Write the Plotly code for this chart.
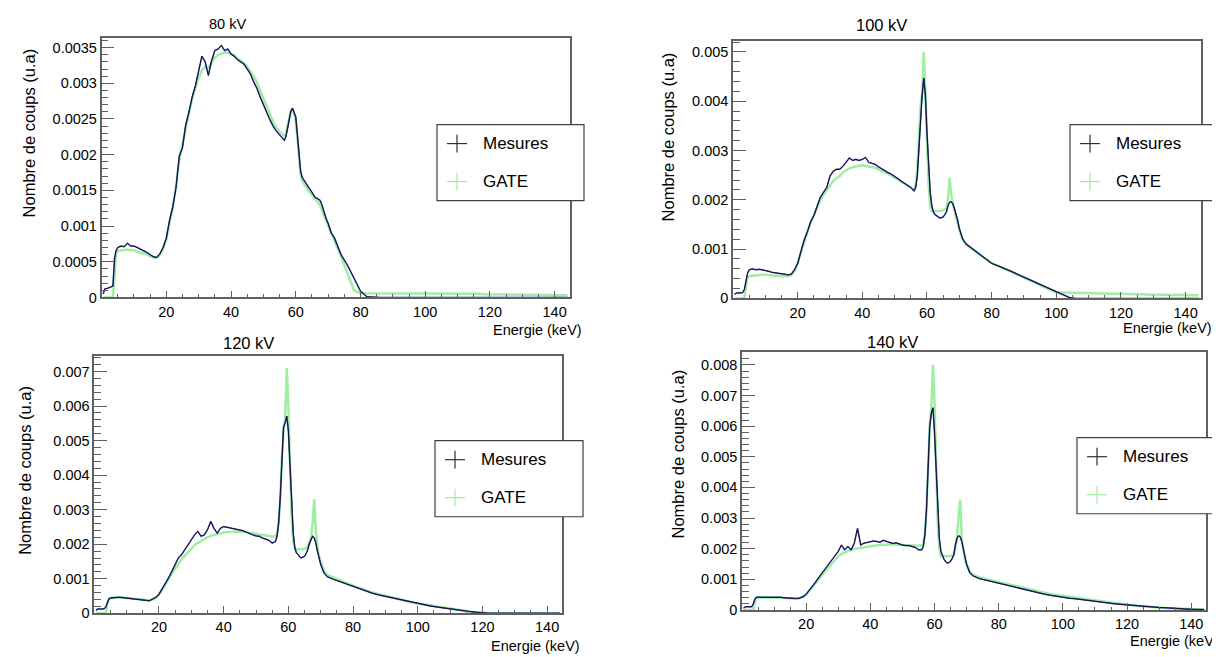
import plotly.graph_objects as go

W, H = 1220, 657

# energy grid (keV), shared by every spectrum below
ENERGY = [0.5, 1, 2, 3, 3.5, 4, 4.5,
          5, 6, 7, 8, 9, 10, 11, 12, 13, 14,
          15, 16, 17, 18, 19, 20, 21, 22, 23, 24,
          25, 26, 27, 28, 29, 30, 31, 32, 33, 34,
          35, 36, 37, 38, 39, 40, 41, 42, 43, 44,
          45, 46, 47, 48, 49, 50, 51, 52, 53, 54,
          55, 56,
          56.5, 57, 57.5, 58, 58.5, 59, 59.5, 60, 60.5, 61,
          61.5, 62, 62.5, 63, 63.5, 64, 64.5, 65, 65.5, 66,
          66.5, 67, 67.5, 68, 68.5, 69, 69.5, 70,
          71, 72, 74, 76, 78, 80, 82, 84, 86,
          88, 90, 92, 94, 96, 98, 100, 102, 104,
          106, 108, 110, 112, 114, 116, 118, 120, 122,
          124, 126, 128, 130, 132, 134, 136, 138, 140, 142, 144]

# spectra, in units of 1e-4 (u.a)
MES_80 = [0.5, 1.2, 1.3, 1.5, 1.6, 5.5, 6.6,
          7.0, 7.2, 7.1, 7.6, 7.2, 7.2, 7.0, 6.8, 6.6, 6.3,
          6.0, 5.7, 5.6, 6.1, 7.0, 8.3, 10.8, 12.7, 15.4, 19.8,
          21.0, 24.2, 26.0, 28.1, 29.7, 31.6, 33.8, 33.0, 31.1, 33.2,
          34.6, 34.8, 35.3, 34.6, 34.8, 34.1, 33.8, 33.3, 33.0, 32.7,
          32.0, 31.3, 30.2, 29.3, 28.1, 27.0, 26.0, 24.9, 24.0, 23.3,
          22.8, 22.3,
          22.0, 22.6, 23.7, 25.3, 26.1, 26.5, 26.0, 25.3, 22.8, 20.0,
          17.7, 16.8, 16.4, 16.1, 15.8, 15.4, 15.1, 14.7, 14.3, 14.0,
          13.9, 13.8, 13.6, 13.1, 12.3, 11.5, 10.9, 10.4,
          9.0, 8.3, 6.0, 4.5, 2.7, 0.9, 0.1, 0, 0,
          0, 0, 0, 0, 0, 0, 0, 0, 0,
          0, 0, 0, 0, 0, 0, 0, 0, 0,
          0, 0, 0, 0, 0, 0, 0, 0, 0, 0, 0]
GATE_80 = [0, 0, 0, 0, 0, 3.0, 6.3,
           6.5, 6.6, 6.6, 6.7, 6.6, 6.6, 6.4, 6.3, 6.1, 6.0,
           5.8, 5.6, 5.6, 5.9, 6.8, 8.2, 10.5, 12.6, 15.5, 19.2,
           21.5, 23.8, 25.8, 27.8, 29.4, 30.8, 31.8, 32.3, 32.2, 33.0,
           33.6, 34.0, 34.2, 34.3, 34.3, 34.1, 33.9, 33.5, 33.2, 32.8,
           32.3, 31.7, 31.0, 30.1, 29.0, 27.9, 26.8, 25.6, 24.6, 23.8,
           23.2, 22.8,
           22.6, 23.0, 24.0, 25.3, 26.2, 26.4, 25.8, 24.8, 22.5, 19.5,
           17.2, 16.3, 15.9, 15.6, 15.2, 14.9, 14.6, 14.3, 14.0, 13.7,
           13.5, 13.3, 12.9, 12.4, 11.8, 11.2, 10.7, 10.2,
           9.0, 7.9, 5.7, 3.3, 1.0, 0.6, 0.6, 0.6, 0.6,
           0.6, 0.6, 0.6, 0.6, 0.6, 0.6, 0.55, 0.55, 0.55,
           0.55, 0.5, 0.5, 0.5, 0.5, 0.5, 0.45, 0.45, 0.45,
           0.45, 0.4, 0.4, 0.4, 0.4, 0.35, 0.35, 0.35, 0.3, 0.3, 0.3]

MES_100 = [0.8, 1.1, 1.1, 1.2, 1.8, 3.5, 5.1,
           5.8, 6.0, 5.8, 5.9, 5.8, 5.7, 5.5, 5.3, 5.2, 5.1,
           5.0, 4.9, 4.8, 4.9, 5.8, 7.1, 9.5, 11.8, 13.5, 15.5,
           16.8, 18.5, 20.5, 21.5, 22.5, 24.8, 25.8, 26.2, 26.2, 26.8,
           27.6, 28.5, 28.0, 28.2, 28.0, 28.2, 28.6, 27.6, 27.4, 27.2,
           26.7, 26.3, 25.8, 25.5, 25.2, 24.8, 24.3, 23.8, 23.4, 23.0,
           22.5, 21.8,
           22.5, 24.8, 30.2, 37.5, 41.2, 44.7, 41.2, 33.5, 26.2, 21.5,
           18.8, 17.5, 17.0, 16.8, 16.5, 16.3, 16.4, 16.5, 17.0, 17.5,
           18.8, 19.5, 19.6, 19.2, 18.2, 17.2, 15.8, 14.2,
           12.1, 11.1, 10.1, 9.1, 8.1, 7.1, 6.6, 6.1, 5.5,
           4.9, 4.3, 3.7, 3.1, 2.5, 1.9, 1.3, 0.7, 0.2,
           0, 0, 0, 0, 0, 0, 0, 0, 0,
           0, 0, 0, 0, 0, 0, 0, 0, 0, 0, 0]
GATE_100 = [0, 0, 0, 0, 0, 2.5, 4.3,
            4.5, 4.6, 4.7, 4.8, 4.8, 4.8, 4.7, 4.7, 4.6, 4.6,
            4.5, 4.5, 4.5, 4.7, 5.5, 7.0, 9.5, 11.6, 13.5, 15.4,
            16.8, 18.4, 19.9, 21.0, 22.0, 23.0, 23.8, 24.4, 24.8, 25.5,
            26.0, 26.4, 26.6, 26.8, 26.9, 27.0, 26.9, 26.8, 26.6, 26.5,
            26.2, 25.9, 25.6, 25.2, 24.9, 24.5, 24.1, 23.8, 23.4, 23.0,
            22.5, 22.0,
            23.0, 26.0, 32.0, 39.0, 41.5, 50.0, 42.0, 30.0, 23.0, 18.5,
            17.8, 17.7, 17.7, 17.7, 17.7, 17.7, 17.8, 17.9, 18.0, 18.2,
            20.0, 24.5, 21.0, 19.0, 17.8, 16.5, 15.2, 14.0,
            12.0, 11.0, 10.0, 9.1, 8.1, 7.2, 6.6, 6.0, 5.4,
            4.8, 4.2, 3.6, 3.0, 2.4, 1.8, 1.2, 1.2, 1.2,
            1.15, 1.1, 1.1, 1.05, 1.0, 1.0, 0.95, 0.9, 0.9,
            0.85, 0.85, 0.8, 0.8, 0.75, 0.75, 0.7, 0.7, 0.7, 0.65, 0.65]

MES_120 = [0.8, 1.2, 1.2, 1.3, 1.7, 2.7, 4.1,
           4.4, 4.6, 4.6, 4.6, 4.5, 4.4, 4.3, 4.2, 4.1, 3.9,
           3.8, 3.6, 3.6, 4.1, 4.6, 5.5, 7.0, 8.7, 10.3, 12.2,
           14.1, 16.0, 17.0, 18.4, 19.9, 21.3, 22.7, 23.7, 22.3, 22.7,
           24.2, 26.6, 24.6, 23.2, 24.6, 25.1, 24.9, 24.6, 24.6, 24.4,
           24.2, 23.9, 23.5, 23.0, 22.7, 22.4, 22.3, 21.8, 21.5, 21.1,
           20.3, 20.8,
           22.3, 26.1, 33.7, 45.2, 53.8, 55.2, 57.1, 52.8, 42.3, 31.8,
           23.2, 18.9, 17.5, 17.0, 16.3, 16.0, 16.2, 16.5, 17.3, 18.4,
           20.3, 21.5, 22.3, 21.8, 20.3, 18.0, 15.8, 14.1,
           11.7, 10.6, 9.8, 9.1, 8.4, 7.7, 7.0, 6.3, 5.8,
           5.3, 4.9, 4.3, 3.9, 3.5, 3.2, 2.8, 2.5, 2.1,
           1.8, 1.5, 1.2, 1.0, 0.8, 0.5, 0.3, 0.1, 0,
           0, 0, 0, 0, 0, 0, 0, 0, 0, 0, 0]
GATE_120 = [0, 0, 0, 0, 0, 2.5, 4.2,
            4.4, 4.5, 4.5, 4.5, 4.5, 4.4, 4.3, 4.2, 4.1, 4.0,
            3.9, 3.8, 3.8, 4.0, 4.5, 5.4, 6.8, 8.4, 9.9, 11.5,
            13.0, 14.4, 15.6, 16.7, 17.8, 18.8, 19.7, 20.4, 21.0, 21.6,
            22.0, 22.4, 22.7, 23.0, 23.2, 23.4, 23.5, 23.6, 23.7, 23.7,
            23.7, 23.6, 23.5, 23.4, 23.2, 23.0, 22.8, 22.6, 22.4, 22.3,
            22.2, 22.3,
            23.0, 26.5, 33.5, 45.0, 53.0, 56.0, 71.0, 60.0, 42.0, 28.0,
            21.0, 18.8, 18.5, 18.5, 18.5, 18.5, 18.5, 18.6, 18.8, 19.2,
            20.0, 22.0, 26.0, 33.0, 24.0, 19.0, 16.5, 15.0,
            12.3, 11.2, 10.3, 9.5, 8.7, 8.0, 7.3, 6.6, 6.0,
            5.5, 5.0, 4.5, 4.0, 3.6, 3.2, 2.8, 2.5, 2.1,
            1.8, 1.5, 1.2, 1.0, 0.8, 0.5, 0.3, 0.1, 0,
            0, 0, 0, 0, 0, 0, 0, 0, 0, 0, 0]

MES_140 = [0.6, 1.0, 1.0, 1.0, 1.9, 3.5, 4.1,
           4.1, 4.1, 4.2, 4.2, 4.3, 4.3, 4.2, 4.1, 4.0, 3.9,
           3.8, 3.6, 3.7, 3.9, 4.3, 5.1, 6.4, 7.8, 9.2, 10.7,
           12.1, 13.7, 15.0, 16.4, 18.0, 19.1, 21.2, 19.6, 20.7, 19.6,
           21.8, 26.6, 21.2, 21.8, 22.0, 22.3, 22.5, 22.3, 22.1, 22.7,
           22.3, 21.9, 21.7, 21.9, 21.5, 21.2, 21.0, 21.0, 20.7, 20.4,
           19.6, 19.6,
           20.7, 24.5, 33.0, 45.9, 59.9, 64.2, 66.0, 57.7, 45.9, 33.0,
           23.4, 19.1, 17.5, 16.4, 15.7, 15.3, 15.5, 15.9, 16.8, 18.0,
           21.2, 23.4, 24.2, 23.9, 22.3, 19.6, 17.0, 14.8,
           12.1, 11.1, 10.2, 9.7, 9.2, 8.6, 8.0, 7.5, 7.0,
           6.5, 6.0, 5.7, 5.2, 4.8, 4.4, 4.1, 3.8, 3.6,
           3.3, 3.1, 2.8, 2.5, 2.3, 2.0, 1.8, 1.6, 1.4,
           1.2, 1.1, 1.0, 0.8, 0.7, 0.5, 0.4, 0.3, 0.2, 0.15, 0.1]
GATE_140 = [0, 0, 0, 0, 0, 2.5, 4.0,
            4.1, 4.1, 4.2, 4.2, 4.2, 4.2, 4.1, 4.0, 3.9, 3.8,
            3.7, 3.6, 3.6, 3.8, 4.2, 5.0, 6.2, 7.5, 8.8, 10.1,
            11.4, 12.6, 13.7, 15.0, 16.2, 17.5, 18.3, 18.8, 19.2, 19.6,
            19.9, 20.1, 20.3, 20.5, 20.7, 20.9, 21.0, 21.1, 21.2, 21.3,
            21.4, 21.4, 21.4, 21.3, 21.2, 21.1, 21.0, 21.0, 21.0, 21.0,
            21.0, 21.0,
            21.5, 25.0, 33.0, 46.0, 60.0, 66.0, 80.0, 68.0, 45.0, 28.0,
            20.0, 17.5, 17.5, 17.5, 17.5, 17.5, 17.5, 17.6, 17.8, 18.0,
            20.0, 24.0, 31.0, 36.0, 23.0, 19.0, 16.5, 15.0,
            12.2, 11.4, 10.6, 10.1, 9.6, 9.1, 8.6, 8.1, 7.6,
            7.1, 6.6, 6.1, 5.7, 5.2, 4.9, 4.6, 4.2, 3.9,
            3.6, 3.3, 3.0, 2.7, 2.4, 2.1, 1.9, 1.6, 1.4,
            1.2, 1.0, 0.9, 0.7, 0.6, 0.5, 0.4, 0.3, 0.2, 0.15, 0.1]

UNIT = 1e-4

TITLES = ["80 kV", "100 kV", "120 kV", "140 kV"]
MESURES = [MES_80, MES_100, MES_120, MES_140]
GATE = [GATE_80, GATE_100, GATE_120, GATE_140]

X_TICKS = [20, 40, 60, 80, 100, 120, 140]
Y_LABELS = [
    ["0", "0.0005", "0.001", "0.0015", "0.002", "0.0025", "0.003", "0.0035"],
    ["0", "0.001", "0.002", "0.003", "0.004", "0.005"],
    ["0", "0.001", "0.002", "0.003", "0.004", "0.005", "0.006", "0.007"],
    ["0", "0.001", "0.002", "0.003", "0.004", "0.005", "0.006", "0.007", "0.008"],
]
Y_STEP = [0.0005, 0.001, 0.001, 0.001]
Y_MINOR = [0.0001, 0.0002, 0.0002, 0.0002]
Y_MAX = [0.00363, 0.00523, 0.00745, 0.00842]
X_MAX = 144.6

# pixel geometry of each pad: frame (left, right, top, bottom)
FRAMES = [(93.6, 561.5, 30.7, 293.0), (725.0, 1192.5, 33.0, 294.0),
          (86.3, 554.0, 352.3, 612.7), (734.0, 1198.0, 348.3, 609.3)]
TITLE_POS = [(219, 16, 14.5), (873, 17, 16.5), (240, 339, 16.5), (884, 338, 16.5)]
LEGEND_BOX = [(429, 576, 118, 195), (1062, 1212, 118, 195),
              (427, 575, 438, 515), (1069, 1217, 435, 512)]
YTITLE_POS = [(21, 127), (660, 131), (17.5, 468), (670, 452)]
XTITLE_POS = [(576, 326), (1206, 324), (574, 646), (1213, 641)]

FONT = "Liberation Sans, Arial, sans-serif"
FRAME_COL = "#606060"
GREEN = "rgb(160,238,160)"


def px(x):
    return x / W


def py(y):
    return 1 - y / H


fig = go.Figure()
shapes = []
annotations = []

for i in range(4):
    n = "" if i == 0 else str(i + 1)
    x = ENERGY
    fig.add_trace(go.Scatter(x=x, y=[v * UNIT for v in GATE[i]], mode="lines",
                             line=dict(color=GREEN, width=2.5), name="GATE",
                             xaxis="x" + n, yaxis="y" + n, showlegend=False))
    # measured spectrum: blue error band look under a thin dark line
    fig.add_trace(go.Scatter(x=x, y=[v * UNIT for v in MESURES[i]], mode="lines",
                             line=dict(color="#2020d0", width=1.5), opacity=0.8,
                             name="Mesures", xaxis="x" + n, yaxis="y" + n,
                             showlegend=False))
    fig.add_trace(go.Scatter(x=x, y=[v * UNIT for v in MESURES[i]], mode="lines",
                             line=dict(color="#141420", width=1), name="Mesures",
                             xaxis="x" + n, yaxis="y" + n, showlegend=False))

    l, r, t, b = FRAMES[i]
    fig.layout["xaxis" + n] = dict(
        domain=[px(l), px(r)], anchor="y" + n, range=[0, X_MAX],
        tickmode="array", tickvals=X_TICKS, ticks="inside", ticklen=7,
        tickcolor=FRAME_COL, showline=True, mirror=True, linecolor=FRAME_COL,
        linewidth=1.5, showgrid=False, zeroline=False,
        tickfont=dict(family=FONT, size=14.5, color="black"),
        minor=dict(tickmode="linear", tick0=0, dtick=5, ticks="inside",
                   ticklen=3.5, tickcolor=FRAME_COL, showgrid=False))
    labels = Y_LABELS[i]
    fig.layout["yaxis" + n] = dict(
        domain=[py(b), py(t)], anchor="x" + n, range=[0, Y_MAX[i]],
        tickmode="array", tickvals=[k * Y_STEP[i] for k in range(len(labels))],
        ticktext=labels, ticks="inside", ticklen=13, tickcolor=FRAME_COL,
        showline=True, mirror=True, linecolor=FRAME_COL, linewidth=1.5,
        showgrid=False, zeroline=False,
        tickfont=dict(family=FONT, size=14.5, color="black"),
        minor=dict(tickmode="linear", tick0=0, dtick=Y_MINOR[i], ticks="inside",
                   ticklen=7, tickcolor=FRAME_COL, showgrid=False))

    tx, ty, ts = TITLE_POS[i]
    annotations.append(dict(x=px(tx), y=py(ty), xref="paper", yref="paper",
                            text=TITLES[i], showarrow=False,
                            xanchor="center", yanchor="middle",
                            font=dict(family=FONT, size=ts, color="black")))
    yx, yy = YTITLE_POS[i]
    annotations.append(dict(x=px(yx), y=py(yy), xref="paper", yref="paper",
                            text="Nombre de coups (u.a)", showarrow=False,
                            textangle=-90, xanchor="center", yanchor="middle",
                            font=dict(family=FONT, size=16.5, color="black")))
    xx, xy = XTITLE_POS[i]
    annotations.append(dict(x=px(xx), y=py(xy), xref="paper", yref="paper",
                            text="Energie (keV)", showarrow=False,
                            xanchor="right", yanchor="middle",
                            font=dict(family=FONT, size=14.5, color="black")))

    # legend box drawn by hand, ROOT style
    bl, br, bt, bb = LEGEND_BOX[i]
    shapes.append(dict(type="rect", xref="paper", yref="paper",
                       x0=px(bl), x1=px(br), y0=py(bb), y1=py(bt),
                       line=dict(color="#404040", width=1.2), fillcolor="white"))
    for k, (label, col) in enumerate([("Mesures", "#303030"), ("GATE", GREEN)]):
        cy = bt + (bb - bt) * (0.25 + 0.5 * k)
        cx = bl + 20
        shapes.append(dict(type="line", xref="paper", yref="paper",
                           x0=px(cx - 10), x1=px(cx + 10), y0=py(cy), y1=py(cy),
                           line=dict(color=col, width=1.2)))
        shapes.append(dict(type="line", xref="paper", yref="paper",
                           x0=px(cx), x1=px(cx), y0=py(cy - 9), y1=py(cy + 9),
                           line=dict(color=col, width=1.2)))
        annotations.append(dict(x=px(bl + 44), y=py(cy), xref="paper", yref="paper",
                                text=label, showarrow=False,
                                xanchor="left", yanchor="middle",
                                font=dict(family=FONT, size=17, color="black")))

fig.update_layout(
    width=W, height=H,
    margin=dict(l=0, r=0, t=0, b=0),
    paper_bgcolor="white", plot_bgcolor="white",
    showlegend=False,
    shapes=shapes, annotations=annotations,
)

fig.write_html("out.html")
